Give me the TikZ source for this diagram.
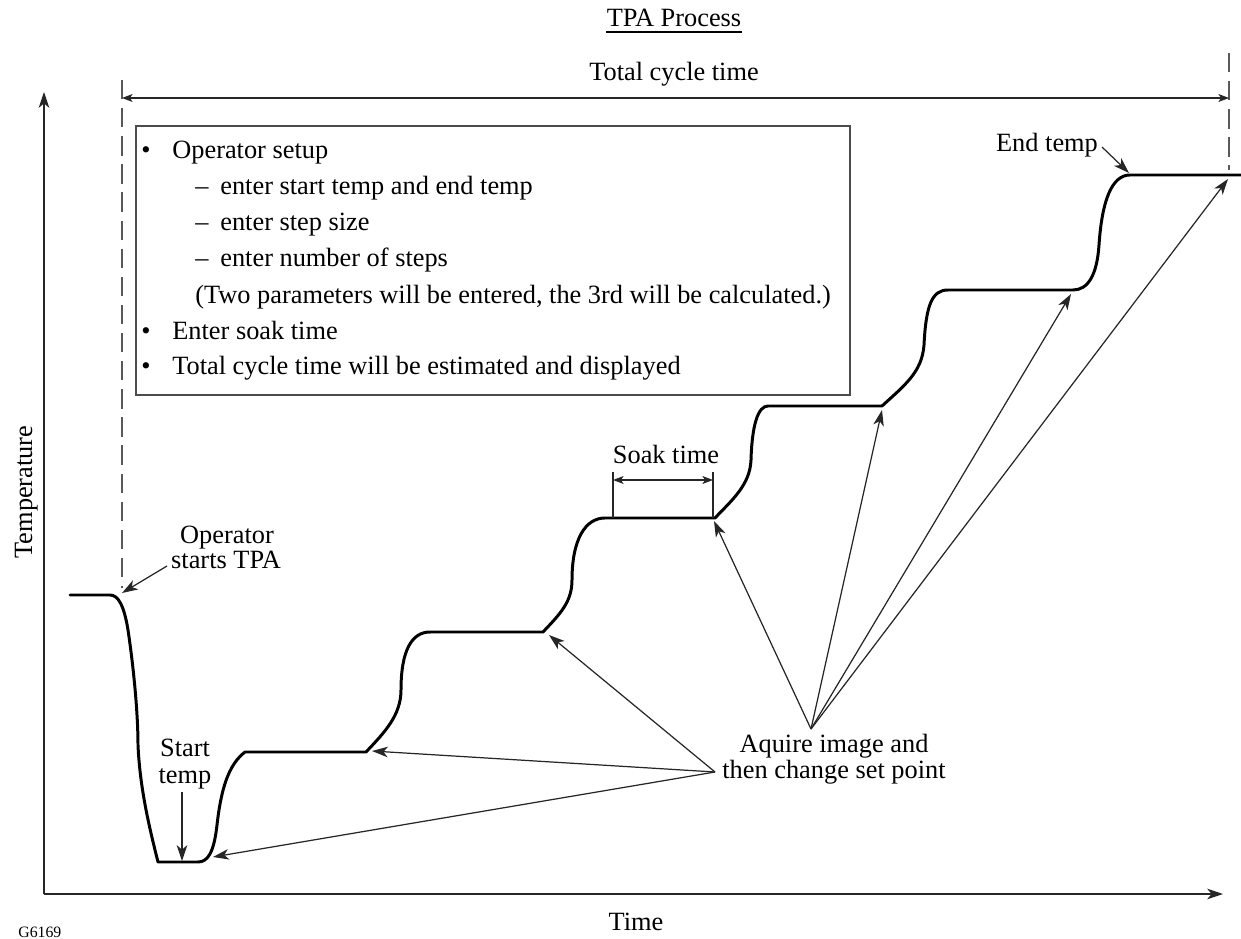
\documentclass[tikz,border=0pt]{standalone}
\usepackage{fontspec}
\setmainfont{Liberation Serif}
\usetikzlibrary{arrows.meta}
\begin{document}
\begin{tikzpicture}[x=0.02cm, y=-0.02cm,
  every node/.style={font=\fontsize{15}{18}\selectfont, inner sep=0pt},
  lbl/.style={anchor=base},
  lblw/.style={anchor=base west},
  curve/.style={line width=1.7pt, line join=round, line cap=round},
  conn/.style={line width=0.7pt, draw=black!85},
  bigarrow/.style={conn, -{Stealth[length=9pt,width=6pt,inset=2.5pt]}},
  dimarrow/.style={conn, {Stealth[length=6pt,width=4.5pt,inset=1.5pt]}-{Stealth[length=6pt,width=4.5pt,inset=1.5pt]}},
  dashline/.style={line width=0.8pt, draw=black!65, dash pattern=on 11pt off 5pt},
  boxstyle/.style={draw=black!70, line width=0.8pt, minimum width=14.28cm, minimum height=5.38cm}
]
\useasboundingbox (0,0) rectangle (1241,939);

% axes
\coordinate (origin) at (44,894);
\coordinate (ytop) at (44,92);
\coordinate (xend) at (1223,894);
\draw[bigarrow] (origin) -- (ytop);
\draw[bigarrow] (origin) -- (xend);
\node[lbl, rotate=90] (ylab) at (32,492) {Temperature};
\node[lbl] (xlab) at (636,930) {Time};
\node[lblw, font=\fontsize{9}{11}\selectfont] (gid) at (18,937) {G6169};

% title
\node[lbl] (tpa) at (674,27) {TPA Process};
\draw[line width=0.7pt] ([yshift=-2.8pt]tpa.base west) -- ([yshift=-2.8pt]tpa.base east);
\node[lbl] (total) at (674,81) {Total cycle time};

% dashed limits and total cycle time arrow
\coordinate (dl1) at (122,80);
\coordinate (dl2) at (122,588);
\coordinate (dr1) at (1229,53);
\coordinate (dr2) at (1229,170);
\draw[dashline] (dl1) -- (dl2);
\draw[dashline] (dr1) -- (dr2);
\coordinate (tc1) at (122,98);
\coordinate (tc2) at (1229,98);
\draw[dimarrow] (tc1) -- (tc2);

% info box
\node[boxstyle] (box) at (493,260.5) {};
\node[lbl] (b1) at (146,159) {\textbullet};
\node[lblw] (t1) at (172,159) {Operator setup};
\node[lblw] (d2) at (195,195) {–};
\node[lblw] (t2) at (220,195) {enter start temp and end temp};
\node[lblw] (d3) at (195,231) {–};
\node[lblw] (t3) at (220,231) {enter step size};
\node[lblw] (d4) at (195,267) {–};
\node[lblw] (t4) at (220,267) {enter number of steps};
\node[lblw] (t5) at (195,303) {(Two parameters will be entered, the 3rd will be calculated.)};
\node[lbl] (b6) at (146,339) {\textbullet};
\node[lblw] (t6) at (172,339) {Enter soak time};
\node[lbl] (b7) at (146,375) {\textbullet};
\node[lblw] (t7) at (172,375) {Total cycle time will be estimated and displayed};

% temperature curve
\draw[curve] (70,595) -- (110,595)
  .. controls (118,595) and (124,605) .. (128,630)
  .. controls (134,670) and (138,715) .. (138,745)
  .. controls (140,790) and (150,830) .. (158,862)
  -- (198,862)
  .. controls (208,862) and (214,852) .. (217,825)
  .. controls (221,790) and (228,765) .. (245,752)
  -- (366,752)
  .. controls (385,732) and (401,715) .. (401,690)
  .. controls (401,650) and (412,632) .. (430,632)
  -- (543,632)
  .. controls (560,614) and (572,602) .. (572,580)
  .. controls (572,540) and (585,518) .. (605,518)
  -- (715,518)
  .. controls (732,500) and (750,485) .. (751,460)
  .. controls (752,425) and (758,406) .. (768,406)
  -- (882,406)
  .. controls (905,385) and (922,372) .. (924,345)
  .. controls (926,305) and (932,290) .. (948,290)
  -- (1073,290)
  .. controls (1088,290) and (1097,275) .. (1099,245)
  .. controls (1102,200) and (1112,175) .. (1130,175)
  -- (1241,175);

% operator starts TPA
\node[lbl] (op1) at (227,543) {Operator};
\node[lbl] (op2) at (226,568) {starts TPA};
\coordinate (opfrom) at (167,566);
\coordinate (opto) at (122,593);
\draw[bigarrow] (opfrom) -- (opto);

% start temp
\node[lbl] (st1) at (185,756) {Start};
\node[lbl] (st2) at (185,783) {temp};
\coordinate (stfrom) at (182,792);
\coordinate (stto) at (182,861);
\draw[bigarrow] (stfrom) -- (stto);

% end temp
\node[lbl] (et) at (1047,152) {End temp};
\coordinate (etfrom) at (1102,147);
\coordinate (etto) at (1129,173);
\draw[bigarrow] (etfrom) -- (etto);

% soak time
\node[lbl] (soak) at (666,463) {Soak time};
\coordinate (sk1a) at (613,472);
\coordinate (sk1b) at (613,518);
\coordinate (sk2a) at (713,472);
\coordinate (sk2b) at (713,518);
\draw[conn] (sk1a) -- (sk1b);
\draw[conn] (sk2a) -- (sk2b);
\coordinate (ska) at (613,480);
\coordinate (skb) at (713,480);
\draw[dimarrow] (ska) -- (skb);

% acquire image
\node[lbl] (aq1) at (834,752) {Aquire image and};
\node[lbl] (aq2) at (834,778) {then change set point};
\coordinate (f1) at (811,729);
\coordinate (f2) at (715,772);
\coordinate (a0) at (213,857);
\coordinate (a1) at (372,751);
\coordinate (a2) at (549,635);
\coordinate (a3) at (714,521);
\coordinate (a4) at (882,410);
\coordinate (a5) at (1071,294);
\coordinate (a6) at (1228,179);
\draw[bigarrow] (f2) -- (a0);
\draw[bigarrow] (f2) -- (a1);
\draw[bigarrow] (f2) -- (a2);
\draw[bigarrow] (f1) -- (a3);
\draw[bigarrow] (f1) -- (a4);
\draw[bigarrow] (f1) -- (a5);
\draw[bigarrow] (f1) -- (a6);
\end{tikzpicture}
\end{document}
